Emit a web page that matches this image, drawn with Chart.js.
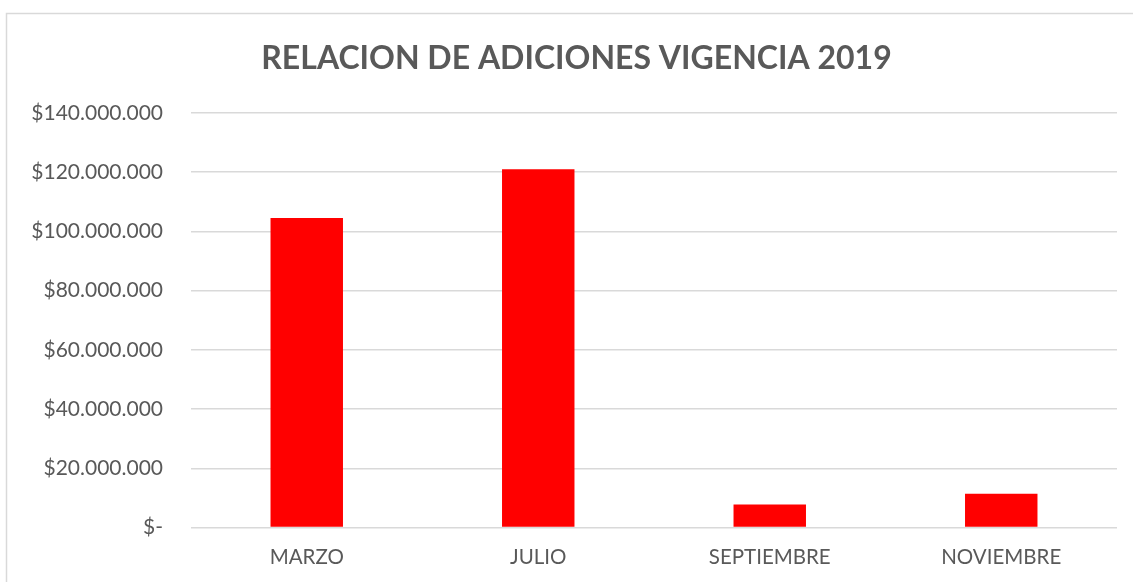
<!DOCTYPE html>
<html>
<head>
<meta charset="utf-8">
<style>
  html, body { margin: 0; padding: 0; background: #ffffff; }
  #wrap { position: relative; width: 1133px; height: 582px; }
</style>
<script src="https://cdn.jsdelivr.net/npm/chart.js@4.4.1/dist/chart.umd.min.js"></script>
</head>
<body>
<div id="wrap"><canvas id="chart" width="1133" height="582"></canvas></div>
<script>
// Additions per month, fiscal year 2019 (pesos)
const months = ['MARZO', 'JULIO', 'SEPTIEMBRE', 'NOVIEMBRE'];
const additions = [104500000, 121000000, 7800000, 11400000];
const yTicks = [0, 20000000, 40000000, 60000000, 80000000, 100000000, 120000000, 140000000];

const TEXT = '#595959';
const GRID = '#d9d9d9';
const FONT = 'Lato, "Open Sans", sans-serif';

function money(v) {
  if (v === 0) return '$-';
  return '$' + Math.round(v).toString().replace(/\B(?=(\d{3})+(?!\d))/g, '.');
}

// Light frame around the chart box; title centred on the framed box
const frame = {
  id: 'frame',
  afterLayout(chart) {
    if (chart.titleBlock) {
      chart.titleBlock.left = 36;
      chart.titleBlock.right = chart.width - 16;
    }
  },
  beforeDraw(chart) {
    const ctx = chart.ctx;
    ctx.save();
    ctx.strokeStyle = GRID;
    ctx.lineWidth = 1.5;
    ctx.beginPath();
    ctx.moveTo(6.5, 600);
    ctx.lineTo(6.5, 13.5);
    ctx.lineTo(1140, 13.5);
    ctx.stroke();
    ctx.restore();
  }
};

new Chart(document.getElementById('chart'), {
  type: 'bar',
  data: {
    labels: months,
    datasets: [{
      data: additions,
      backgroundColor: '#ff0000',
      borderWidth: 0,
      barPercentage: 0.313,
      categoryPercentage: 1.0
    }]
  },
  plugins: [frame],
  options: {
    responsive: false,
    animation: false,
    devicePixelRatio: 1,
    layout: { padding: { left: 16, right: 16, top: 0, bottom: 0 } },
    plugins: {
      legend: { display: false },
      tooltip: { enabled: false },
      title: {
        display: true,
        text: 'RELACION DE ADICIONES VIGENCIA 2019',
        color: TEXT,
        font: { family: FONT, size: 32, weight: 'bold' },
        padding: { top: 39, bottom: 35.6 }
      }
    },
    scales: {
      x: {
        grid: { display: false, drawTicks: false },
        border: { display: false },
        ticks: {
          color: TEXT,
          font: { family: FONT, size: 20.5 },
          padding: 18,
          maxRotation: 0
        },
        afterFit(scale) { scale.height = 54.5; }
      },
      y: {
        min: 0,
        max: 140000000,
        afterBuildTicks(scale) { scale.ticks = yTicks.map(v => ({ value: v })); },
        grid: { color: GRID, lineWidth: 1.5, drawTicks: false },
        border: { display: false },
        ticks: {
          color: TEXT,
          font: { family: FONT, size: 21 },
          padding: 28,
          callback: (v) => money(v)
        },
        afterFit(scale) { scale.width = 175; }
      }
    }
  }
});
</script>
</body>
</html>
